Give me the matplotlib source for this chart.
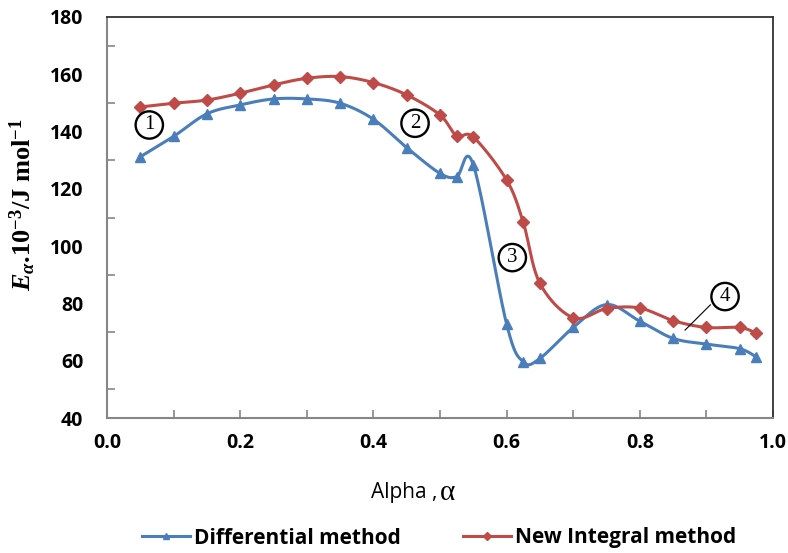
import numpy as np
import matplotlib
matplotlib.use("Agg")
import matplotlib.pyplot as plt
from matplotlib.ticker import MultipleLocator, FixedLocator
from matplotlib.lines import Line2D

# ---- data ----
alpha = [0.05, 0.10, 0.15, 0.20, 0.25, 0.30, 0.35, 0.40, 0.45, 0.50, 0.525,
         0.55, 0.60, 0.625, 0.65, 0.70, 0.75, 0.80, 0.85, 0.90, 0.95, 0.975]
differential = [131.2, 138.3, 146.2, 149.3, 151.4, 151.4, 149.9, 144.3, 134.4,
                 125.4, 124.2, 128.4, 72.8, 59.6, 60.8, 71.6, 79.6, 73.8, 67.8,
                 65.8, 64.2, 61.3]
new_integral = [148.6, 149.9, 151.0, 153.4, 156.3, 158.6, 159.2, 157.1, 152.8,
                145.8, 138.5, 138.1, 123.1, 108.3, 87.0, 75.0, 78.2, 78.4, 74.0,
                71.6, 71.6, 69.6]
series_names = ["Differential method", "New Integral method"]
xticks = [0.0, 0.2, 0.4, 0.6, 0.8, 1.0]
yticks = [40, 60, 80, 100, 120, 140, 160, 180]
notes = ["1", "2", "3", "4"]
note_pos = [(0.0635, 142.3), (0.4625, 142.9), (0.6086, 96.0), (0.928, 82.4)]
leader = [(0.906, 79.5), (0.868, 70.7)]

BLUE = "#4A7EBB"
RED = "#BE4B48"


def catmull_rom(xs, ys, n=20):
    """Excel-style smoothed line through the given points."""
    P = np.column_stack([xs, ys]).astype(float)
    P = np.vstack([P[0], P, P[-1]])
    out = []
    for i in range(1, len(P) - 2):
        p0, p1, p2, p3 = P[i - 1], P[i], P[i + 1], P[i + 2]
        c1 = p1 + (p2 - p0) / 6.0
        c2 = p2 - (p3 - p1) / 6.0
        t = np.linspace(0, 1, n, endpoint=(i == len(P) - 3))[:, None]
        seg = ((1 - t) ** 3) * p1 + 3 * ((1 - t) ** 2) * t * c1 + 3 * (1 - t) * t ** 2 * c2 + t ** 3 * p2
        out.append(seg)
    out = np.vstack(out)
    return out[:, 0], out[:, 1]


plt.rcParams["mathtext.fontset"] = "custom"
plt.rcParams["mathtext.rm"] = "Liberation Serif:bold"
plt.rcParams["mathtext.it"] = "Liberation Serif:italic:bold"
plt.rcParams["mathtext.bf"] = "Liberation Serif:bold"

fig = plt.figure(figsize=(7.88, 5.53), dpi=100)
ax = fig.add_axes([107 / 788, 1 - 418 / 553, 666 / 788, 401 / 553])

for ys, col, mk, ms in [(differential, BLUE, "^", 7), (new_integral, RED, "D", 6)]:
    sx, sy = catmull_rom(alpha, ys)
    ax.plot(sx, sy, color=col, lw=2.2, solid_capstyle="round", zorder=3)
    ax.plot(alpha, ys, ls="none", marker=mk, ms=ms, color=col, zorder=4)

ax.set_xlim(0, 1)
ax.set_ylim(40, 180)
ax.xaxis.set_major_locator(FixedLocator(xticks))
ax.xaxis.set_minor_locator(MultipleLocator(0.1))
ax.yaxis.set_major_locator(FixedLocator(yticks))
ax.yaxis.set_minor_locator(MultipleLocator(10))
ax.set_xticklabels([f"{v:.1f}" for v in xticks])
ax.set_yticklabels([str(v) for v in yticks])

for lab in ax.get_xticklabels() + ax.get_yticklabels():
    lab.set_fontfamily("Open Sans")
    lab.set_fontweight("bold")
    lab.set_fontsize(14)

ax.tick_params(axis="x", which="both", direction="in", length=6, width=1.2,
               color="#868686", pad=11)
ax.tick_params(axis="y", which="major", direction="in", length=0, pad=17)
ax.tick_params(axis="y", which="minor", direction="in", length=6, width=1.2,
               color="#868686")

for s in ["left", "bottom"]:
    ax.spines[s].set_color("#868686")
    ax.spines[s].set_linewidth(1.5)
for s in ["top", "right"]:
    ax.spines[s].set_color("#333333")
    ax.spines[s].set_linewidth(1.3)

# y label
ax.text(-0.126, 0.531, r"$E_{\alpha}$.10$^{-3}$/J mol$^{-1}$", transform=ax.transAxes,
        rotation=90, ha="center", va="center", fontsize=19,
        fontfamily="Liberation Serif", fontweight="bold")
# x label
xl_x = (437 - 107) / 666
ax.text(xl_x, -0.186, "Alpha ,", transform=ax.transAxes, ha="right", va="center",
        fontsize=15, fontfamily="Open Sans")
ax.text(xl_x + 0.004, -0.186, "α", transform=ax.transAxes, ha="left", va="center",
        fontsize=21, fontfamily="Liberation Serif")

# circled annotations
for txt, (nx, ny) in zip(notes, note_pos):
    ax.text(nx, ny, txt, ha="center", va="center", fontsize=15,
            fontfamily="Liberation Serif", zorder=6,
            bbox=dict(boxstyle="circle,pad=0.2", fc="white", ec="black", lw=1.7))
ax.plot([leader[0][0], leader[1][0]], [leader[0][1], leader[1][1]], color="black",
        lw=0.8, zorder=5)

handles = [Line2D([], [], color=BLUE, lw=2.2, marker="^", ms=5),
           Line2D([], [], color=RED, lw=2.2, marker="D", ms=4)]
leg = fig.legend(handles, series_names, loc="center", ncol=2, frameon=False,
                 bbox_to_anchor=(439 / 788, 1 - 538 / 553), handlelength=2.3,
                 handletextpad=0.2, columnspacing=3.0,
                 prop=dict(family="Open Sans", weight="bold", size=15))

fig.savefig("out.png", dpi=100)
